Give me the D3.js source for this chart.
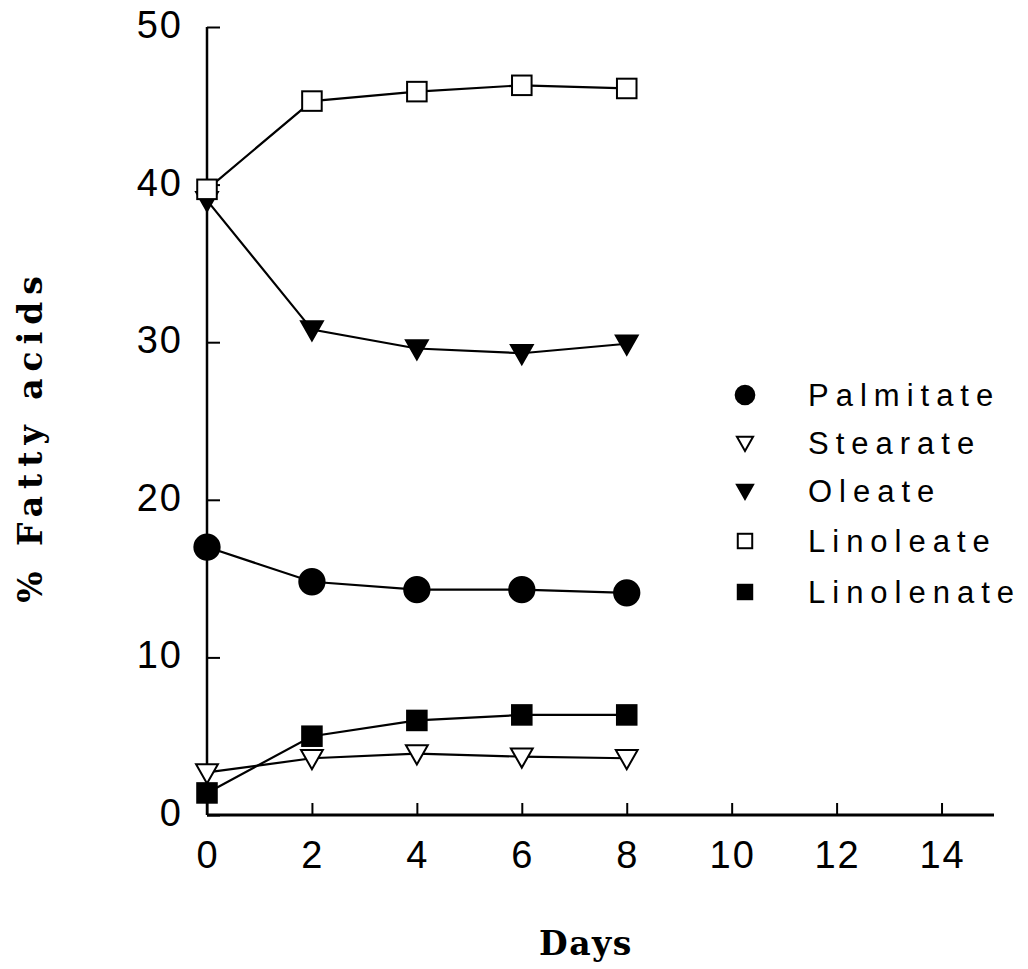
<!DOCTYPE html>
<html>
<head>
<meta charset="utf-8">
<script src="https://cdn.jsdelivr.net/npm/d3@7"></script>
<style>
  body { margin: 0; background: #fff; }
  svg { display: block; }
</style>
</head>
<body>
<script>
// data
const days = [0, 2, 4, 6, 8]
const palmitate = [17.0, 14.8, 14.3, 14.3, 14.1]
const stearate = [2.7, 3.6, 3.9, 3.7, 3.6]
const oleate = [39.0, 30.8, 29.6, 29.3, 29.9]
const linoleate = [39.7, 45.3, 45.9, 46.3, 46.1]
const linolenate = [1.4, 5.0, 6.0, 6.35, 6.35]
const xTicks = [0, 2, 4, 6, 8, 10, 12, 14]
const yTicks = [0, 10, 20, 30, 40, 50]

const series = [
    { name: "Palmitate", values: palmitate, shape: "circle", fill: "#000" },
    { name: "Stearate", values: stearate, shape: "tri", fill: "#fff" },
    { name: "Oleate", values: oleate, shape: "tri", fill: "#000" },
    { name: "Linoleate", values: linoleate, shape: "square", fill: "#fff" },
    { name: "Linolenate", values: linolenate, shape: "square", fill: "#000" }
]

const width = 1028, height = 969

const svg = d3.select("body")
    .append("svg")
    .attr("width", width)
    .attr("height", height)

// scales
const x = d3.scaleLinear().domain([0, 15]).range([207, 994])
const y = d3.scaleLinear().domain([0, 50]).range([815, 27])

// X axis, ticks point up
const xAxis = svg.append("g")
    .attr("transform", `translate(0, ${y(0)})`)
    .call(d3.axisTop(x).tickValues(xTicks).tickSize(12).tickFormat(""))
xAxis.select(".domain").attr("d", `M${x(0)},0H${x(15)}`).attr("stroke-width", 3)
xAxis.selectAll(".tick line").attr("stroke-width", 2)

xAxis.selectAll(".xlab")
    .data(xTicks)
    .join("text")
    .attr("x", d => x(d) + 1)
    .attr("y", 53)
    .attr("text-anchor", "middle")
    .attr("fill", "#000")
    .style("font-family", "Liberation Sans, sans-serif")
    .style("font-size", "38px")
    .style("letter-spacing", "2px")
    .text(d => d)

// Y axis, ticks point right
const yAxis = svg.append("g")
    .attr("transform", `translate(${x(0)}, 0)`)
    .call(d3.axisRight(y).tickValues(yTicks).tickSize(13).tickFormat(""))
yAxis.select(".domain").attr("d", `M0,${y(50)}V${y(0)}`).attr("stroke-width", 2.5)
yAxis.selectAll(".tick line").attr("stroke-width", 2)

yAxis.selectAll(".ylab")
    .data(yTicks)
    .join("text")
    .attr("x", -24)
    .attr("y", d => y(d) + 11)
    .attr("text-anchor", "end")
    .attr("fill", "#000")
    .style("font-family", "Liberation Sans, sans-serif")
    .style("font-size", "38px")
    .style("letter-spacing", "2px")
    .text(d => d)

// axis titles
svg.append("text")
    .attr("x", 586)
    .attr("y", 955)
    .attr("text-anchor", "middle")
    .style("font-family", "DejaVu Serif, serif")
    .style("font-weight", "bold")
    .style("font-size", "33px")
    .style("letter-spacing", "1.5px")
    .text("Days")

svg.append("text")
    .attr("transform", "translate(42, 436) rotate(-90)")
    .attr("text-anchor", "middle")
    .style("font-family", "DejaVu Serif, serif")
    .style("font-weight", "bold")
    .style("font-size", "33px")
    .style("letter-spacing", "7px")
    .text("% Fatty acids")

// marker drawing
function marker(sel, shape, size) {
    if (shape === "circle") {
        sel.append("circle").attr("r", size * 0.55)
    } else if (shape === "square") {
        const s = size * 0.85
        sel.append("rect").attr("x", -s / 2).attr("y", -s / 2).attr("width", s).attr("height", s)
    } else {
        const w = size * 0.95
        sel.append("path").attr("d", `M${-w / 2},${-w * 0.38}L${w / 2},${-w * 0.38}L0,${w * 0.5}Z`)
    }
}

const line = d3.line()
    .x((d, i) => x(days[i]))
    .y(d => y(d))

series.forEach(s => {
    svg.append("path")
        .datum(s.values)
        .attr("d", line)
        .attr("fill", "none")
        .attr("stroke", "#000")
        .attr("stroke-width", 2.2)
})

series.forEach(s => {
    const g = svg.append("g")
    g.selectAll("g")
        .data(s.values)
        .join("g")
        .attr("transform", (d, i) => `translate(${x(days[i])},${y(d)})`)
        .each(function () { marker(d3.select(this), s.shape, 23) })
        .selectAll("*")
        .attr("fill", s.fill)
        .attr("stroke", "#000")
        .attr("stroke-width", 2)
})

// legend
const legend = svg.append("g")
const rowY = [395, 443, 491, 541, 592]
series.forEach((s, i) => {
    const item = legend.append("g").attr("transform", `translate(745, ${rowY[i]})`)
    marker(item, s.shape, 17)
    item.selectAll("*").attr("fill", s.fill).attr("stroke", "#000").attr("stroke-width", 2)
    item.append("text")
        .attr("x", 63)
        .attr("y", 11)
        .style("font-family", "Liberation Sans, sans-serif")
        .style("font-size", "31px")
        .style("letter-spacing", "7px")
        .attr("fill", "#000")
        .attr("stroke", "none")
        .text(s.name)
})
</script>
</body>
</html>
